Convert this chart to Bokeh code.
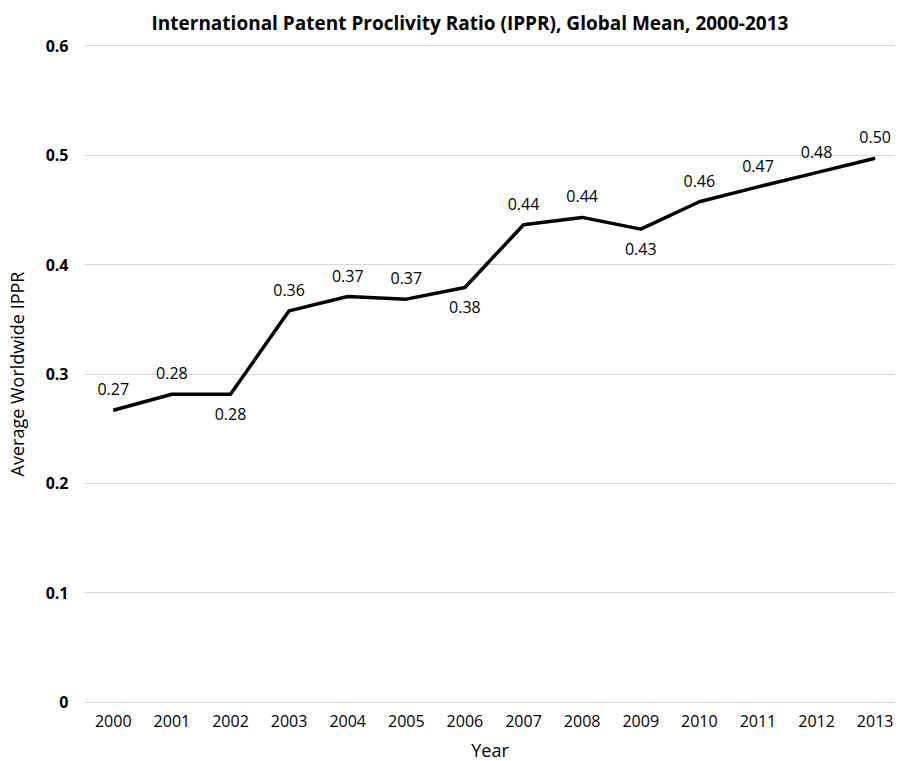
from bokeh.plotting import figure
from bokeh.models import Range1d, FixedTicker, ColumnDataSource, Title
from bokeh.core.properties import value
from bokeh.embed import file_html
from bokeh.resources import INLINE

# ---- data ----
years = [2000, 2001, 2002, 2003, 2004, 2005, 2006, 2007, 2008, 2009, 2010, 2011, 2012, 2013]
ippr = [0.2669, 0.2815, 0.2815, 0.3577, 0.3708, 0.3684, 0.3791, 0.4364, 0.4431, 0.4324,
        0.4574, 0.4710, 0.4840, 0.4971]
y_ticks = [0, 0.1, 0.2, 0.3, 0.4, 0.5, 0.6]
title_text = "International Patent Proclivity Ratio (IPPR), Global Mean, 2000-2013"
x_label = "Year"
y_label = "Average Worldwide IPPR"
labels_below = [2002, 2006, 2009]

FONT = "Open Sans"

p = figure(width=895, height=764, output_backend="svg", toolbar_location=None,
           x_range=Range1d(1999.509, 2013.347), y_range=Range1d(-0.002, 0.602),
           min_border_left=84, min_border_right=0, min_border_top=41, min_border_bottom=50)
p.title = None
p.add_layout(Title(text=title_text, align="left", offset=67,
                   text_font=FONT, text_font_size="19px", text_font_style="bold",
                   text_color="#000000", standoff=15), "above")
p.outline_line_color = None
p.background_fill_color = "white"
p.border_fill_color = "white"

# grid
p.xgrid.grid_line_color = None
p.ygrid.grid_line_color = "#d9d9d9"
p.ygrid.grid_line_width = 1

# y axis
p.yaxis.ticker = FixedTicker(ticks=y_ticks)
p.yaxis.major_label_overrides = {0: "0"}
p.yaxis.axis_line_color = None
p.yaxis.major_tick_line_color = None
p.yaxis.minor_tick_line_color = None
p.yaxis.major_tick_out = 0
p.yaxis.major_tick_in = 0
p.yaxis.minor_tick_out = 0
p.yaxis.major_label_text_font = FONT
p.yaxis.major_label_text_font_size = "16px"
p.yaxis.major_label_text_font_style = "bold"
p.yaxis.major_label_text_color = "#000000"
p.yaxis.major_label_standoff = 16
p.yaxis.axis_label = y_label
p.yaxis.axis_label_text_font = FONT
p.yaxis.axis_label_text_font_size = "18px"
p.yaxis.axis_label_text_font_style = "normal"
p.yaxis.axis_label_text_color = "#000000"
p.yaxis.axis_label_standoff = 14

# x axis
p.xaxis.ticker = FixedTicker(ticks=years)
p.xaxis.axis_line_color = None
p.xaxis.major_tick_line_color = None
p.xaxis.minor_tick_line_color = None
p.xaxis.major_tick_out = 0
p.xaxis.major_tick_in = 0
p.xaxis.minor_tick_out = 0
p.xaxis.major_label_text_font = FONT
p.xaxis.major_label_text_font_size = "16px"
p.xaxis.major_label_text_color = "#000000"
p.xaxis.major_label_standoff = 10
p.xaxis.axis_label = x_label
p.xaxis.axis_label_text_font = FONT
p.xaxis.axis_label_text_font_size = "18px"
p.xaxis.axis_label_text_font_style = "normal"
p.xaxis.axis_label_text_color = "#000000"
p.xaxis.axis_label_standoff = 8

# line
p.line(years, ippr, line_color="black", line_width=3.5, line_join="round")

# data labels
txt = [f"{v:.2f}" for v in ippr]
above = ColumnDataSource(dict(x=[y for y in years if y not in labels_below],
                              y=[v for y, v in zip(years, ippr) if y not in labels_below],
                              t=[t for y, t in zip(years, txt) if y not in labels_below]))
below = ColumnDataSource(dict(x=[y for y in years if y in labels_below],
                              y=[v for y, v in zip(years, ippr) if y in labels_below],
                              t=[t for y, t in zip(years, txt) if y in labels_below]))
p.text(x="x", y="y", text="t", source=above, text_font=value(FONT), text_font_size="16px",
       text_align="center", text_baseline="middle", y_offset=-21, text_color="#000000")
p.text(x="x", y="y", text="t", source=below, text_font=value(FONT), text_font_size="16px",
       text_align="center", text_baseline="middle", y_offset=20, text_color="#000000")

open("out.html", "w").write(file_html(p, INLINE))
